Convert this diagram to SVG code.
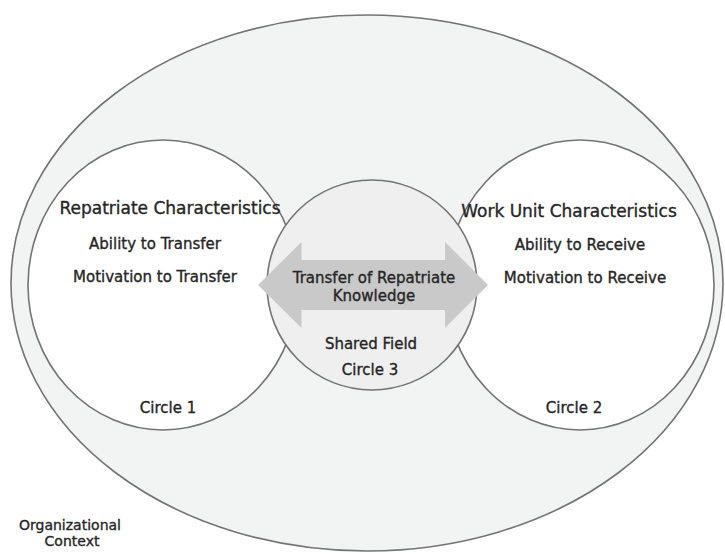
<svg xmlns="http://www.w3.org/2000/svg" width="725" height="554" viewBox="0 0 725 554">
  <style>
    .ring { stroke: #747474; stroke-width: 1.6; }
    .outer { fill: #f2f3f3; }
    .side { fill: #ffffff; }
    .shared { fill: #efefef; }
    .flow { fill: #c9c9c9; }
    text { font-family: "DejaVu Sans", Verdana, sans-serif; fill: #262626; stroke: #262626; stroke-width: 0.35; text-anchor: middle; }
    .title { font-size: 17px; }
    .item { font-size: 15px; }
    .small { font-size: 14px; }
  </style>

  <!-- Organizational context: the enclosing field -->
  <g id="organizational-context">
    <ellipse class="ring outer" cx="367" cy="283" rx="356" ry="268"/>
    <text class="small" x="70" y="530">Organizational</text>
    <text class="small" x="72" y="546">Context</text>
  </g>

  <!-- Circle 1: repatriate -->
  <g id="circle-1">
    <ellipse class="ring side" cx="163" cy="285" rx="135" ry="145"/>
    <text class="title" x="170" y="214">Repatriate Characteristics</text>
    <text class="item" x="155" y="249">Ability to Transfer</text>
    <text class="item" x="155" y="282">Motivation to Transfer</text>
    <text class="item" x="168" y="413">Circle 1</text>
  </g>

  <!-- Circle 2: work unit -->
  <g id="circle-2">
    <ellipse class="ring side" cx="580" cy="285" rx="134" ry="145"/>
    <text class="title" x="569" y="217">Work Unit Characteristics</text>
    <text class="item" x="580" y="250">Ability to Receive</text>
    <text class="item" x="585" y="283">Motivation to Receive</text>
    <text class="item" x="574" y="413">Circle 2</text>
  </g>

  <!-- Circle 3: shared field -->
  <g id="circle-3">
    <circle class="ring shared" cx="372" cy="285" r="105"/>
  </g>

  <!-- Two-way transfer arrow across the shared field -->
  <g id="connectors">
    <polygon class="flow" points="258,285 301.5,242 301.5,260 445,260 445,242 488,285 445,328 445,310 301.5,310 301.5,328"/>
  </g>

  <g id="circle-3-labels">
    <text class="item" x="374" y="283">Transfer of Repatriate</text>
    <text class="item" x="374" y="301">Knowledge</text>
    <text class="item" x="371" y="349">Shared Field</text>
    <text class="item" x="370" y="375">Circle 3</text>
  </g>
</svg>
